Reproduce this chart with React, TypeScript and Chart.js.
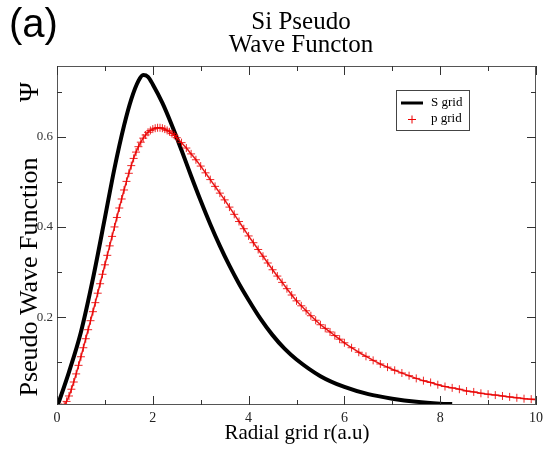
import React, { useEffect, useRef } from "react";
import { Chart, registerables } from "chart.js";

Chart.register(...registerables);

// ---- data ----
const titleLines = ["Si Pseudo", "Wave Functon"];
const panelLabel = "(a)";
const xAxisTitle = "Radial grid r(a.u)";
const yAxisTitle = "Pseudo Wave Function";
const yAxisSymbol = "Ψ";
const legendLabels = ["S grid", "p grid"];

const xMajorTicks = [0, 2, 4, 6, 8, 10];
const xMinorTicks = [1, 3, 5, 7, 9];
const yMajorTicks = [0.2, 0.4, 0.6];
const yMinorTicks = [0.1, 0.3, 0.5, 0.7];

// s-channel (black line)
const sR = [0, 0.25, 0.5, 0.75, 1.0, 1.2, 1.4, 1.55, 1.7, 1.8, 1.9, 2.0, 2.2, 2.4, 2.6, 2.8, 3.0, 3.2, 3.4, 3.6, 3.8, 4.0, 4.25, 4.5, 4.75, 5.0, 5.5, 6.0, 6.5, 7.0, 7.5, 8.0, 8.25];
const sPsi = [0, 0.078, 0.167, 0.285, 0.42, 0.53, 0.625, 0.683, 0.724, 0.737, 0.733, 0.716, 0.675, 0.625, 0.57, 0.513, 0.458, 0.406, 0.358, 0.314, 0.274, 0.238, 0.196, 0.16, 0.13, 0.106, 0.069, 0.045, 0.029, 0.019, 0.012, 0.008, 0.007];

// p-channel (red crosses)
const pR = [
  0.10, 0.15, 0.20, 0.25, 0.30, 0.35, 0.40, 0.45, 0.50, 0.55, 0.60, 0.65, 0.70, 0.75, 0.80, 0.85, 0.90, 0.95,
  1.00, 1.05, 1.10, 1.15, 1.20, 1.25, 1.30, 1.35, 1.40, 1.45, 1.50, 1.55, 1.60, 1.65, 1.70, 1.75, 1.80, 1.85, 1.90, 1.95,
  2.00, 2.05, 2.10, 2.15, 2.20, 2.25, 2.30, 2.35, 2.40, 2.45, 2.50,
  2.6, 2.7, 2.8, 2.9, 3.0, 3.1, 3.2, 3.3, 3.4, 3.5, 3.6, 3.7, 3.8, 3.9, 4.0, 4.1, 4.2, 4.3, 4.4, 4.5, 4.6, 4.7, 4.8, 4.9,
  5.0, 5.1, 5.2, 5.3, 5.4, 5.5, 5.6, 5.7, 5.8, 5.9, 6.0,
  6.15, 6.3, 6.45, 6.6, 6.75, 6.9, 7.05, 7.2, 7.35, 7.5, 7.65, 7.8, 7.95, 8.1, 8.25, 8.4, 8.55, 8.7, 8.85, 9.0,
  9.15, 9.3, 9.45, 9.6, 9.75, 9.9, 10.0,
];
const pPsi = [
  0.000, 0.004, 0.013, 0.025, 0.040, 0.056, 0.074, 0.093, 0.112, 0.132, 0.152, 0.172, 0.192, 0.212, 0.232, 0.253, 0.274, 0.295,
  0.316, 0.337, 0.358, 0.379, 0.400, 0.421, 0.442, 0.462, 0.482, 0.501, 0.519, 0.536, 0.552, 0.566, 0.578, 0.588, 0.597, 0.604, 0.610, 0.614,
  0.617, 0.619, 0.620, 0.620, 0.619, 0.617, 0.614, 0.611, 0.607, 0.603, 0.598,
  0.587, 0.575, 0.562, 0.549, 0.535, 0.520, 0.505, 0.490, 0.475, 0.460, 0.444, 0.428, 0.412, 0.396, 0.380, 0.365, 0.350, 0.335, 0.320, 0.305, 0.291, 0.277, 0.263, 0.249,
  0.236, 0.225, 0.214, 0.203, 0.193, 0.183, 0.175, 0.167, 0.159, 0.151, 0.143,
  0.132, 0.122, 0.113, 0.104, 0.096, 0.089, 0.082, 0.076, 0.070, 0.064, 0.059, 0.055, 0.050, 0.046, 0.043, 0.040, 0.036, 0.034, 0.031, 0.029,
  0.027, 0.025, 0.023, 0.021, 0.019, 0.018, 0.017,
];

const SERIF = "'Liberation Serif', 'DejaVu Serif', serif";
const SANS = "'Liberation Sans', Arial, sans-serif";

const decorPlugin = {
  id: "decor",
  afterDraw(chart: any) {
    const { ctx, chartArea } = chart;
    const { left, right, top, bottom } = chartArea;
    const xs = chart.scales.x;
    const ys = chart.scales.y;
    ctx.save();

    // frame
    ctx.strokeStyle = "#555";
    ctx.lineWidth = 1;
    ctx.strokeRect(Math.round(left) + 0.5, Math.round(top) + 0.5, Math.round(right - left) - 1, Math.round(bottom - top) - 1);

    // inward ticks on all four sides
    const drawX = (vals: number[], len: number) => {
      vals.forEach((v) => {
        const px = Math.round(xs.getPixelForValue(v)) + 0.5;
        ctx.beginPath();
        ctx.moveTo(px, bottom);
        ctx.lineTo(px, bottom - len);
        ctx.moveTo(px, top);
        ctx.lineTo(px, top + len);
        ctx.stroke();
      });
    };
    const drawY = (vals: number[], len: number) => {
      vals.forEach((v) => {
        const py = Math.round(ys.getPixelForValue(v)) + 0.5;
        ctx.beginPath();
        ctx.moveTo(left, py);
        ctx.lineTo(left + len, py);
        ctx.moveTo(right, py);
        ctx.lineTo(right - len, py);
        ctx.stroke();
      });
    };
    ctx.strokeStyle = "#333";
    drawX(xMajorTicks, 9);
    drawX(xMinorTicks, 5);
    drawY(yMajorTicks, 9);
    drawY(yMinorTicks, 5);

    // panel label
    ctx.fillStyle = "#000";
    ctx.textBaseline = "middle";
    ctx.textAlign = "left";
    ctx.font = `40px ${SANS}`;
    ctx.fillText(panelLabel, 9, 26);

    // title
    ctx.textAlign = "center";
    ctx.font = `25px ${SERIF}`;
    ctx.fillText(titleLines[0], 301, 22);
    ctx.fillText(titleLines[1], 301, 45);

    // x axis title
    ctx.font = `21px ${SERIF}`;
    ctx.fillText(xAxisTitle, 297, 433);

    // y axis title (rotated)
    ctx.save();
    ctx.translate(30, 277);
    ctx.rotate(-Math.PI / 2);
    ctx.font = `26px ${SERIF}`;
    ctx.fillText(yAxisTitle, 0, 0);
    ctx.restore();
    ctx.save();
    ctx.translate(31, 92);
    ctx.rotate(-Math.PI / 2);
    ctx.font = `27px ${SERIF}`;
    ctx.fillText(yAxisSymbol, 0, 0);
    ctx.restore();

    // legend
    ctx.strokeStyle = "#444";
    ctx.lineWidth = 1;
    ctx.strokeRect(396.5, 90.5, 73, 40);
    ctx.strokeStyle = "#000";
    ctx.lineWidth = 3;
    ctx.beginPath();
    ctx.moveTo(401, 103);
    ctx.lineTo(423, 103);
    ctx.stroke();
    ctx.strokeStyle = "#e00";
    ctx.lineWidth = 1;
    ctx.beginPath();
    ctx.moveTo(408, 119.5);
    ctx.lineTo(416, 119.5);
    ctx.moveTo(412, 115.5);
    ctx.lineTo(412, 123.5);
    ctx.stroke();
    ctx.fillStyle = "#000";
    ctx.textAlign = "left";
    ctx.font = `13px ${SERIF}`;
    ctx.fillText(legendLabels[0], 431, 103);
    ctx.fillText(legendLabels[1], 431, 119);

    ctx.restore();
  },
};

export default function App() {
  const canvasRef = useRef<HTMLCanvasElement | null>(null);

  useEffect(() => {
    document.body.style.margin = "0";
    const canvas = canvasRef.current;
    if (!canvas) return;
    const chart = new Chart(canvas, {
      type: "scatter",
      data: {
        datasets: [
          {
            label: legendLabels[0],
            data: sR.map((r, i) => ({ x: r, y: sPsi[i] })),
            showLine: true,
            borderColor: "#000",
            backgroundColor: "#000",
            borderWidth: 4,
            pointRadius: 0,
            cubicInterpolationMode: "monotone",
            order: 2,
          },
          {
            label: legendLabels[1],
            data: pR.map((r, i) => ({ x: r, y: pPsi[i] })),
            showLine: true,
            borderColor: "rgba(230,0,0,0.9)",
            borderWidth: 1.5,
            pointStyle: "cross",
            pointRadius: 4,
            pointBorderWidth: 1,
            pointBorderColor: "rgba(235,0,0,0.85)",
            pointBackgroundColor: "rgba(235,0,0,0.85)",
            cubicInterpolationMode: "monotone",
            order: 1,
          },
        ],
      },
      options: {
        animation: false,
        responsive: false,
        devicePixelRatio: 1,
        layout: { padding: { left: 0, right: 7, top: 66, bottom: 0 } },
        plugins: {
          legend: { display: false },
          title: { display: false },
          tooltip: { enabled: false },
        },
        scales: {
          x: {
            type: "linear",
            min: 0,
            max: 10,
            afterFit: (s: any) => {
              s.height = 45;
            },
            afterBuildTicks: (s: any) => {
              s.ticks = xMajorTicks.map((v) => ({ value: v }));
            },
            grid: { display: false, drawTicks: false },
            border: { display: false },
            ticks: {
              padding: 5,
              color: "#222",
              font: { family: SERIF, size: 14 },
              maxRotation: 0,
              callback: (v: any) => String(v),
            },
          },
          y: {
            type: "linear",
            min: 0.005,
            max: 0.757,
            afterFit: (s: any) => {
              s.width = 57;
            },
            afterBuildTicks: (s: any) => {
              s.ticks = yMajorTicks.map((v) => ({ value: v }));
            },
            grid: { display: false, drawTicks: false },
            border: { display: false },
            ticks: {
              padding: 4,
              color: "#333",
              font: { family: SERIF, size: 13 },
              callback: (v: any) => Number(v).toFixed(1),
            },
          },
        },
      },
      plugins: [decorPlugin],
    } as any);
    return () => chart.destroy();
  }, []);

  return (
    <div style={{ width: 548, height: 450, background: "#fff" }}>
      <canvas ref={canvasRef} width={548} height={450} style={{ display: "block" }} />
    </div>
  );
}
